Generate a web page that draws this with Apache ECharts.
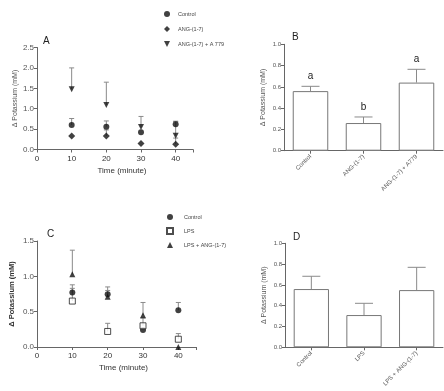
<!DOCTYPE html>
<html><head><meta charset="utf-8">
<script src="https://cdn.jsdelivr.net/npm/echarts@6/dist/echarts.min.js"></script>
<style>html,body{margin:0;padding:0;background:#fff}#c{width:444px;height:391px}</style>
</head><body><div id="c"></div>
<script>
// ---------- data ----------
const timesA = [10, 20, 30, 40];
const aControl = [0.60, 0.56, 0.42, 0.62];
const aControlErr = [0.76, 0.70, 0.42, 0.69];
const aAng = [0.33, 0.33, 0.15, 0.13];
const aAngErr = [0.33, 0.48, 0.15, 0.28];
const aAngA779 = [1.475, 1.09, 0.55, 0.34];
const aAngA779Err = [2.0, 1.65, 0.81, 0.69];

const catsB = ['Control', 'ANG-(1-7)', 'ANG-(1-7) + A779'];
const barsB = [0.56, 0.26, 0.64];
const barsBErr = [0.605, 0.317, 0.765];
const lettersB = ['a', 'b', 'a'];

const timesC = [10, 20, 30, 40];
const cControl = [0.77, 0.745, 0.24, 0.52];
const cControlErr = [0.88, 0.85, 0.24, 0.63];
const cLps = [0.65, 0.22, 0.30, 0.11];
const cLpsErr = [0.83, 0.335, 0.41, 0.19];
const cLpsAng = [1.03, 0.71, 0.45, 0.0];
const cLpsAngErr = [1.37, 0.80, 0.63, 0.0];

const catsD = ['Control', 'LPS', 'LPS + ANG-(1-7)'];
const barsD = [0.56, 0.31, 0.55];
const barsDErr = [0.683, 0.423, 0.769];

// ---------- helpers ----------
const FONT = 'Liberation Sans, Arial, sans-serif';
const AX = '#666';
const TX = '#555';
const ERR = '#8a8a8a';
const triDown = 'path://M0,0 L10,0 L5,10 Z';

function errSeries(xs, vals, errs, gi, cap) {
  return {
    type: 'custom', xAxisIndex: gi, yAxisIndex: gi, silent: true, z: 1,
    data: xs.map((x, i) => [x, vals[i], errs[i]]),
    renderItem: function (params, api) {
      const p0 = api.coord([api.value(0), api.value(1)]);
      const p1 = api.coord([api.value(0), api.value(2)]);
      if (Math.abs(p0[1] - p1[1]) < 0.5) return null;
      return { type: 'group', children: [
        { type: 'line', shape: { x1: p0[0], y1: p0[1], x2: p1[0], y2: p1[1] }, style: { stroke: ERR, lineWidth: 1 } },
        { type: 'line', shape: { x1: p1[0] - cap / 2, y1: p1[1], x2: p1[0] + cap / 2, y2: p1[1] }, style: { stroke: ERR, lineWidth: 1 } }
      ] };
    }
  };
}
function scat(name, xs, vals, gi, symbol, size, hollow) {
  return {
    name: name, type: 'scatter', xAxisIndex: gi, yAxisIndex: gi, z: 3,
    symbol: symbol, symbolSize: size,
    itemStyle: hollow ? { color: '#fff', borderColor: '#222', borderWidth: 1 } : { color: '#111' },
    data: xs.map((x, i) => [x, vals[i]])
  };
}
function valX(gi) {
  return {
    type: 'value', gridIndex: gi, min: 0, max: 45, interval: 10,
    axisLine: { lineStyle: { color: AX } },
    axisTick: { show: true, length: 3, lineStyle: { color: AX } },
    axisLabel: { color: '#333', fontSize: 8, fontFamily: FONT, margin: 5,
      formatter: v => (v % 10 === 0 && v <= 40) ? String(v) : '' },
    splitLine: { show: false },
    name: 'Time (minute)', nameLocation: 'middle', nameGap: 17,
    nameTextStyle: { color: '#333', fontSize: 8, fontFamily: FONT, padding: [0, 0, 0, 14] }
  };
}
function valY(gi, max, interval, bold, fs) {
  return {
    type: 'value', gridIndex: gi, min: 0, max: max, interval: interval,
    axisLine: { show: true, lineStyle: { color: AX } },
    axisTick: { show: true, length: 3, lineStyle: { color: AX } },
    axisLabel: { color: TX, fontSize: fs, fontFamily: FONT, margin: 3, formatter: v => v.toFixed(1) },
    splitLine: { show: false },
    name: 'Δ Potassium (mM)', nameLocation: 'middle', nameRotate: 90,
    nameGap: bold ? 21 : 17,
    nameTextStyle: { color: bold ? '#333' : TX, fontSize: bold ? 7.5 : 7, fontFamily: FONT, fontWeight: bold ? 'bold' : 'normal' }
  };
}
function catX(gi, cats) {
  return {
    type: 'category', gridIndex: gi, data: cats,
    axisLine: { lineStyle: { color: AX } },
    axisTick: { show: true, alignWithLabel: true, length: 3, lineStyle: { color: AX } },
    axisLabel: { color: TX, fontSize: 6, fontFamily: FONT, rotate: 45, margin: 5, interval: 0 }
  };
}
function bars(vals, gi) {
  return {
    type: 'bar', xAxisIndex: gi, yAxisIndex: gi, barCategoryGap: '33%', z: 2,
    itemStyle: { color: '#fff', borderColor: '#777', borderWidth: 1 },
    data: vals
  };
}
function catErr(cats, vals, errs, gi, letters) {
  return {
    type: 'custom', xAxisIndex: gi, yAxisIndex: gi, silent: true, z: 3,
    data: cats.map((c, i) => [i, vals[i], errs[i]]),
    renderItem: function (params, api) {
      const p0 = api.coord([api.value(0), api.value(1)]);
      const p1 = api.coord([api.value(0), api.value(2)]);
      const ch = [
        { type: 'line', shape: { x1: p0[0], y1: p0[1], x2: p1[0], y2: p1[1] }, style: { stroke: ERR, lineWidth: 1 } },
        { type: 'line', shape: { x1: p1[0] - 9, y1: p1[1], x2: p1[0] + 9, y2: p1[1] }, style: { stroke: ERR, lineWidth: 1 } }
      ];
      if (letters) {
        ch.push({ type: 'text', x: p1[0], y: p1[1] - 10, style: { text: letters[params.dataIndex], fill: '#222', fontSize: 10, fontFamily: FONT, align: 'center', verticalAlign: 'middle' } });
      }
      return { type: 'group', children: ch };
    }
  };
}

const chart = echarts.init(document.getElementById('c'), null, { renderer: 'canvas' });
chart.setOption({
  animation: false,
  backgroundColor: '#fff',
  title: [
    { text: 'A', left: 38, top: 31, textStyle: { fontSize: 10, fontWeight: 'normal', color: '#222', fontFamily: FONT } },
    { text: 'B', left: 287, top: 27, textStyle: { fontSize: 10, fontWeight: 'normal', color: '#222', fontFamily: FONT } },
    { text: 'C', left: 42, top: 224, textStyle: { fontSize: 10, fontWeight: 'normal', color: '#222', fontFamily: FONT } },
    { text: 'D', left: 288, top: 227, textStyle: { fontSize: 10, fontWeight: 'normal', color: '#222', fontFamily: FONT } }
  ],
  legend: [
    { orient: 'vertical', left: 159, top: 6, itemWidth: 6, itemHeight: 6, itemGap: 9,
      textStyle: { fontSize: 5.5, color: '#444', fontFamily: FONT, padding: [0, 0, 0, 3] },
      data: [{ name: 'Control', icon: 'circle' }, { name: 'ANG-(1-7)', icon: 'diamond' }, { name: 'ANG-(1-7) + A 779', icon: triDown }] },
    { orient: 'vertical', left: 161, top: 209, itemWidth: 6, itemHeight: 6, itemGap: 7,
      textStyle: { fontSize: 5.5, color: '#444', fontFamily: FONT, padding: [0, 0, 0, 6] },
      data: [{ name: 'Control ', icon: 'circle' }, { name: 'LPS', icon: 'rect' }, { name: 'LPS + ANG-(1-7)', icon: 'triangle' }] }
  ],
  grid: [
    { left: 37, top: 47.5, width: 156, height: 102 },
    { left: 284, top: 44.3, width: 159, height: 106.4 },
    { left: 37, top: 241, width: 159, height: 106 },
    { left: 285, top: 243.3, width: 158, height: 104 }
  ],
  xAxis: [valX(0), catX(1, catsB), valX(2), catX(3, catsD)],
  yAxis: [valY(0, 2.5, 0.5, false, 8), valY(1, 1.0, 0.2, false, 6), valY(2, 1.5, 0.5, true, 8), valY(3, 1.0, 0.2, false, 6)],
  series: [
    errSeries(timesA, aControl, aControlErr, 0, 5),
    errSeries(timesA, aAng, aAngErr, 0, 5),
    errSeries(timesA, aAngA779, aAngA779Err, 0, 5),
    scat('Control', timesA, aControl, 0, 'circle', 6),
    scat('ANG-(1-7)', timesA, aAng, 0, 'diamond', 7),
    scat('ANG-(1-7) + A 779', timesA, aAngA779, 0, triDown, 6),

    bars(barsB, 1),
    catErr(catsB, barsB, barsBErr, 1, lettersB),

    errSeries(timesC, cControl, cControlErr, 2, 5),
    errSeries(timesC, cLps, cLpsErr, 2, 5),
    errSeries(timesC, cLpsAng, cLpsAngErr, 2, 5),
    scat('Control ', timesC, cControl, 2, 'circle', 6),
    scat('LPS', timesC, cLps, 2, 'rect', 6, true),
    scat('LPS + ANG-(1-7)', timesC, cLpsAng, 2, 'triangle', 6),

    bars(barsD, 3),
    catErr(catsD, barsD, barsDErr, 3, null)
  ]
});
</script></body></html>
